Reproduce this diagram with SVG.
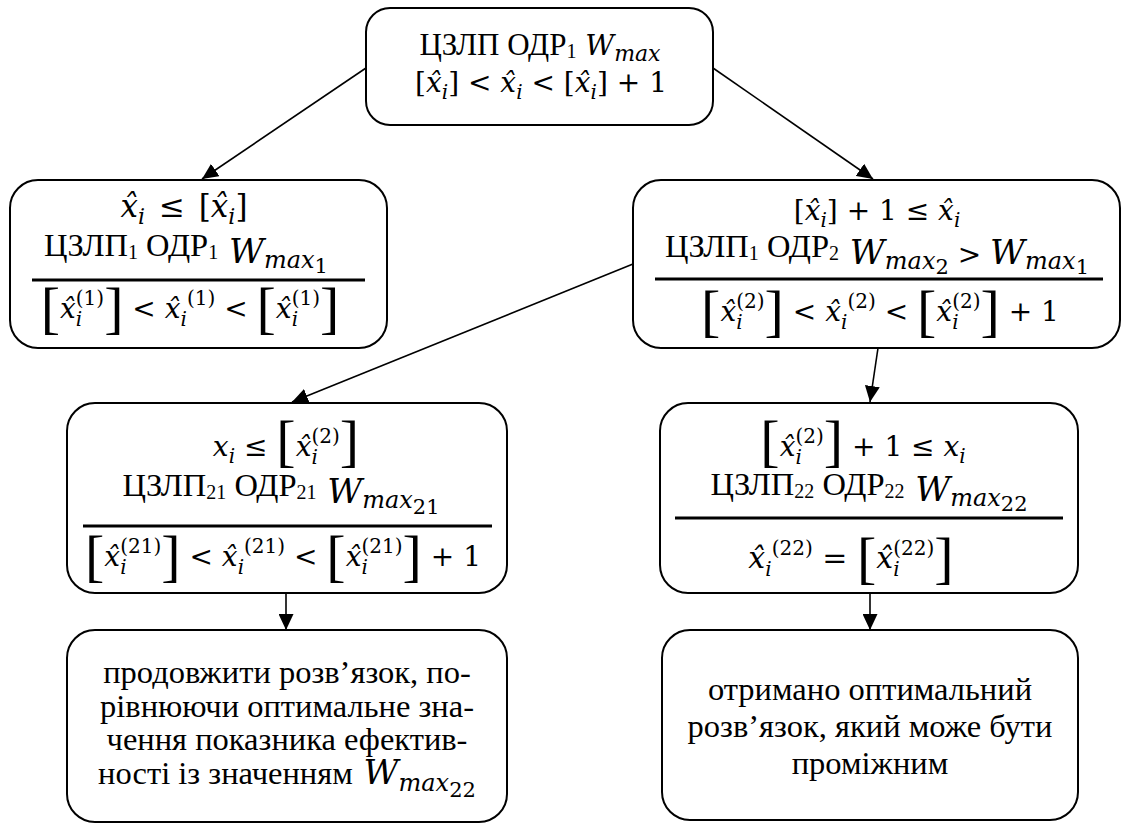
<svg xmlns="http://www.w3.org/2000/svg" width="1124" height="825" viewBox="0 0 1124 825">
<style>
.box{fill:#fff;stroke:#000;stroke-width:2}
.bar{stroke:#000;stroke-width:3}
.con{stroke:#000;stroke-width:1.6;fill:none}
.t{font-size:32.5px;fill:#000}
.t0{font-size:31px;fill:#000}
.ts{font-size:20px}
.m{font-size:28px;font-style:normal;fill:#000}
.i{font-style:italic}
.s{font-size:20px}
.B{font-size:58px;font-style:normal}
.W{font-style:italic;font-size:34px}
.Ws{font-style:italic;font-size:24px}
.Wd{font-style:normal;font-size:21px}
</style>
<defs>
<marker id="ah" viewBox="0 0 16 15" refX="16" refY="7.5" markerWidth="16" markerHeight="15" markerUnits="userSpaceOnUse" orient="auto"><path d="M0,0 L16,7.5 L0,15 z" fill="#000"/></marker>
</defs>
<g id="connectors">
<line class="con" x1="366" y1="68" x2="202" y2="179" marker-end="url(#ah)"/>
<line class="con" x1="713" y1="68" x2="873" y2="179" marker-end="url(#ah)"/>
<line class="con" x1="633" y1="264" x2="292" y2="402" marker-end="url(#ah)"/>
<line class="con" x1="878" y1="348" x2="870" y2="402" marker-end="url(#ah)"/>
<line class="con" x1="286" y1="593" x2="286" y2="630" marker-end="url(#ah)"/>
<line class="con" x1="870" y1="593" x2="870" y2="630" marker-end="url(#ah)"/>
</g>
<g id="top">
<rect class="box" x="366" y="8" width="347" height="117" rx="24"/>
<text class="t0" font-family="Liberation Serif, Times New Roman, serif" x="540" y="55" text-anchor="middle">ЦЗЛП ОДР<tspan class="ts" dy="3">1</tspan><tspan class="m i" font-family="DejaVu Serif, serif" dy="-3"> W</tspan><tspan class="s i" font-family="DejaVu Serif, serif" style="font-size:22px" dy="6">max</tspan></text>
<text class="m" font-family="DejaVu Serif, serif" x="541" y="92" text-anchor="middle">[<tspan class="i">x&#770;</tspan><tspan class="s i" dy="7">i</tspan><tspan dy="-7">] &lt; </tspan><tspan class="i">x&#770;</tspan><tspan class="s i" dy="7">i</tspan><tspan dy="-7"> &lt; [</tspan><tspan class="i">x&#770;</tspan><tspan class="s i" dy="7">i</tspan><tspan dy="-7">] + 1</tspan></text>
</g>
<g id="left">
<rect class="box" x="10" y="180" width="377" height="168" rx="28"/>
<text class="m" font-family="DejaVu Serif, serif" style="font-size:31px" x="184" y="217" text-anchor="middle"><tspan class="i">x&#770;</tspan><tspan class="s i" style="font-size:22px" dy="7">i</tspan><tspan dy="-7" dx="4"> ≤ </tspan><tspan dx="4">[</tspan><tspan class="i">x&#770;</tspan><tspan class="s i" style="font-size:22px" dy="7">i</tspan><tspan dy="-7">]</tspan></text>
<text class="t" font-family="Liberation Serif, Times New Roman, serif" x="186" y="256" text-anchor="middle">ЦЗЛП<tspan class="ts" dy="3">1</tspan><tspan dy="-3"> ОДР</tspan><tspan class="ts" dy="3">1</tspan><tspan class="W" font-family="DejaVu Serif, serif" dy="4"> W</tspan><tspan class="Ws" font-family="DejaVu Serif, serif" dy="5">max</tspan><tspan class="Wd" font-family="DejaVu Serif, serif" dy="5">1</tspan></text>
<line class="bar" x1="32" y1="280" x2="365" y2="280"/>
<text class="m" font-family="DejaVu Serif, serif" x="190" y="318" text-anchor="middle"><tspan class="B" font-family="Liberation Serif, serif" dy="9">[</tspan><tspan class="i" dy="-9">x&#770;</tspan><tspan class="s i" dy="8">i</tspan><tspan class="s" dx="-6.4" dy="-21">(1)</tspan><tspan class="B" font-family="Liberation Serif, serif" dy="22">]</tspan><tspan dy="-9"> &lt; </tspan><tspan class="i">x&#770;</tspan><tspan class="s i" dy="8">i</tspan><tspan class="s" dy="-21">(1)</tspan><tspan dy="13"> &lt; </tspan><tspan class="B" font-family="Liberation Serif, serif" dy="9">[</tspan><tspan class="i" dy="-9">x&#770;</tspan><tspan class="s i" dy="8">i</tspan><tspan class="s" dx="-6.4" dy="-21">(1)</tspan><tspan class="B" font-family="Liberation Serif, serif" dy="22">]</tspan></text>
</g>
<g id="right">
<rect class="box" x="633" y="180" width="487" height="168" rx="28"/>
<text class="m" font-family="DejaVu Serif, serif" x="877" y="220" text-anchor="middle">[<tspan class="i">x&#770;</tspan><tspan class="s i" dy="7">i</tspan><tspan dy="-7">] + 1 ≤ </tspan><tspan class="i">x&#770;</tspan><tspan class="s i" dy="7">i</tspan></text>
<text class="t" font-family="Liberation Serif, Times New Roman, serif" x="877" y="257" text-anchor="middle">ЦЗЛП<tspan class="ts" dy="3">1</tspan><tspan dy="-3"> ОДР</tspan><tspan class="ts" dy="3">2</tspan><tspan class="W" font-family="DejaVu Serif, serif" dy="4"> W</tspan><tspan class="Ws" font-family="DejaVu Serif, serif" dy="5">max</tspan><tspan class="Wd" font-family="DejaVu Serif, serif" dy="5">2</tspan><tspan class="m" font-family="DejaVu Serif, serif" dy="-10"> &gt; </tspan><tspan class="W" font-family="DejaVu Serif, serif">W</tspan><tspan class="Ws" font-family="DejaVu Serif, serif" dy="5">max</tspan><tspan class="Wd" font-family="DejaVu Serif, serif" dy="5">1</tspan></text>
<line class="bar" x1="655" y1="279" x2="1103" y2="279"/>
<text class="m" font-family="DejaVu Serif, serif" x="880" y="321" text-anchor="middle"><tspan class="B" font-family="Liberation Serif, serif" dy="9">[</tspan><tspan class="i" dy="-9">x&#770;</tspan><tspan class="s i" dy="8">i</tspan><tspan class="s" dx="-6.4" dy="-21">(2)</tspan><tspan class="B" font-family="Liberation Serif, serif" dy="22">]</tspan><tspan dy="-9"> &lt; </tspan><tspan class="i">x&#770;</tspan><tspan class="s i" dy="8">i</tspan><tspan class="s" dy="-21">(2)</tspan><tspan dy="13"> &lt; </tspan><tspan class="B" font-family="Liberation Serif, serif" dy="9">[</tspan><tspan class="i" dy="-9">x&#770;</tspan><tspan class="s i" dy="8">i</tspan><tspan class="s" dx="-6.4" dy="-21">(2)</tspan><tspan class="B" font-family="Liberation Serif, serif" dy="22">]</tspan><tspan dy="-9"> + 1</tspan></text>
</g>
<g id="midleft">
<rect class="box" x="67" y="403" width="440" height="190" rx="28"/>
<text class="m" font-family="DejaVu Serif, serif" x="286" y="456" text-anchor="middle"><tspan class="i">x</tspan><tspan class="s i" dy="7">i</tspan><tspan dy="-7"> ≤ </tspan><tspan class="B" font-family="Liberation Serif, serif" dy="4">[</tspan><tspan class="i" dy="-4">x&#770;</tspan><tspan class="s i" dy="8">i</tspan><tspan class="s" dx="-6.4" dy="-21">(2)</tspan><tspan class="B" font-family="Liberation Serif, serif" dy="17">]</tspan></text>
<text class="t" font-family="Liberation Serif, Times New Roman, serif" x="281" y="496" text-anchor="middle">ЦЗЛП<tspan class="ts" dy="3">21</tspan><tspan dy="-3"> ОДР</tspan><tspan class="ts" dy="3">21</tspan><tspan class="W" font-family="DejaVu Serif, serif" dy="4"> W</tspan><tspan class="Ws" font-family="DejaVu Serif, serif" dy="5">max</tspan><tspan class="Wd" font-family="DejaVu Serif, serif" dy="6">21</tspan></text>
<line class="bar" x1="83" y1="526" x2="492" y2="526"/>
<text class="m" font-family="DejaVu Serif, serif" x="283" y="566" text-anchor="middle"><tspan class="B" font-family="Liberation Serif, serif" dy="9">[</tspan><tspan class="i" dy="-9">x&#770;</tspan><tspan class="s i" dy="8">i</tspan><tspan class="s" dx="-6.4" dy="-21">(21)</tspan><tspan class="B" font-family="Liberation Serif, serif" dy="22">]</tspan><tspan dy="-9"> &lt; </tspan><tspan class="i">x&#770;</tspan><tspan class="s i" dy="8">i</tspan><tspan class="s" dy="-21">(21)</tspan><tspan dy="13"> &lt; </tspan><tspan class="B" font-family="Liberation Serif, serif" dy="9">[</tspan><tspan class="i" dy="-9">x&#770;</tspan><tspan class="s i" dy="8">i</tspan><tspan class="s" dx="-6.4" dy="-21">(21)</tspan><tspan class="B" font-family="Liberation Serif, serif" dy="22">]</tspan><tspan dy="-9"> + 1</tspan></text>
</g>
<g id="midright">
<rect class="box" x="660" y="403" width="418" height="190" rx="28"/>
<text class="m" font-family="DejaVu Serif, serif" x="863" y="456" text-anchor="middle"><tspan class="B" font-family="Liberation Serif, serif" dy="4">[</tspan><tspan class="i" dy="-4">x&#770;</tspan><tspan class="s i" dy="8">i</tspan><tspan class="s" dx="-6.4" dy="-21">(2)</tspan><tspan class="B" font-family="Liberation Serif, serif" dy="17">]</tspan><tspan dy="-4"> + 1 ≤ </tspan><tspan class="i">x</tspan><tspan class="s i" dy="7">i</tspan></text>
<text class="t" font-family="Liberation Serif, Times New Roman, serif" x="869" y="495" text-anchor="middle">ЦЗЛП<tspan class="ts" dy="3">22</tspan><tspan dy="-3"> ОДР</tspan><tspan class="ts" dy="3">22</tspan><tspan class="W" font-family="DejaVu Serif, serif" dy="3"> W</tspan><tspan class="Ws" font-family="DejaVu Serif, serif" dy="5">max</tspan><tspan class="Wd" font-family="DejaVu Serif, serif" dy="5">22</tspan></text>
<line class="bar" x1="675" y1="518" x2="1063" y2="518"/>
<text class="m" font-family="DejaVu Serif, serif" style="font-size:30px" x="851" y="568" text-anchor="middle"><tspan class="i">x&#770;</tspan><tspan class="s i" dy="8">i</tspan><tspan class="s" dy="-21">(22)</tspan><tspan dy="13"> = </tspan><tspan class="B" font-family="Liberation Serif, serif" dy="9">[</tspan><tspan class="i" dy="-9">x&#770;</tspan><tspan class="s i" dy="8">i</tspan><tspan class="s" dx="-6.4" dy="-21">(22)</tspan><tspan class="B" font-family="Liberation Serif, serif" dy="22">]</tspan></text>
</g>
<g id="botleft">
<rect class="box" x="67" y="630" width="440" height="192" rx="28"/>
<text class="t" font-family="Liberation Serif, Times New Roman, serif" x="287" y="683" text-anchor="middle">продовжити розв’язок, по-</text>
<text class="t" font-family="Liberation Serif, Times New Roman, serif" x="287" y="717" text-anchor="middle">рівнюючи оптимальне зна-</text>
<text class="t" font-family="Liberation Serif, Times New Roman, serif" x="287" y="750" text-anchor="middle">чення показника ефектив-</text>
<text class="t" font-family="Liberation Serif, Times New Roman, serif" x="287" y="784" text-anchor="middle">ності із значенням<tspan class="W" font-family="DejaVu Serif, serif"> W</tspan><tspan class="Ws" font-family="DejaVu Serif, serif" dy="7">max</tspan><tspan class="Wd" font-family="DejaVu Serif, serif" dy="6">22</tspan></text>
</g>
<g id="botright">
<rect class="box" x="662" y="630" width="416" height="190" rx="28"/>
<text class="t" font-family="Liberation Serif, Times New Roman, serif" x="870" y="700" text-anchor="middle">отримано оптимальний</text>
<text class="t" font-family="Liberation Serif, Times New Roman, serif" x="870" y="737" text-anchor="middle">розв’язок, який може бути</text>
<text class="t" font-family="Liberation Serif, Times New Roman, serif" x="870" y="774" text-anchor="middle">проміжним</text>
</g>
</svg>
